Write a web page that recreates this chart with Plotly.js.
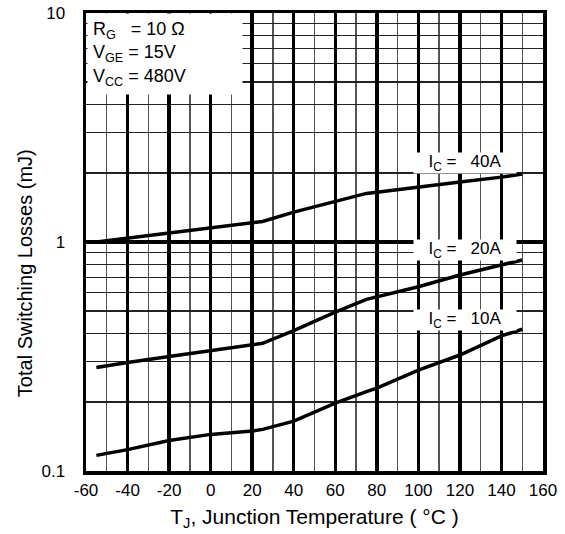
<!DOCTYPE html>
<html>
<head>
<meta charset="utf-8">
<script src="https://cdn.plot.ly/plotly-3.0.1.min.js"></script>
<style>
html,body{margin:0;padding:0;background:#fff;}
#chart{width:565px;height:534px;}
</style>
</head>
<body>
<div id="chart"></div>
<script>
// Junction temperature (°C)
var temps = [-55, -40, -20, 0, 20, 25, 40, 60, 75, 80, 100, 120, 140, 150];
// Total switching losses (mJ)
var loss40A = [1.00, 1.04, 1.09, 1.15, 1.21, 1.23, 1.35, 1.50, 1.63, 1.65, 1.73, 1.83, 1.92, 1.98];
var loss20A = [0.283, 0.298, 0.316, 0.334, 0.355, 0.361, 0.410, 0.494, 0.562, 0.577, 0.638, 0.718, 0.794, 0.835];
var loss10A = [0.117, 0.124, 0.136, 0.1445, 0.1495, 0.152, 0.165, 0.198, 0.222, 0.230, 0.276, 0.321, 0.389, 0.416];

var xTickVals = [-60, -40, -20, 0, 20, 40, 60, 80, 100, 120, 140, 160];
var xTickText = ['-60', '-40', '-20', '0', '20', '40', '60', '80', '100', '120', '140', '160'];
var yTickVals = [0.1, 1, 10];
var yTickText = ['0.1', '1', '10'];
var yMinorVals = [0.2, 0.3, 0.4, 0.5, 0.6, 0.7, 0.8, 0.9, 2, 3, 4, 5, 6, 7, 8, 9];

var curveLabels = ['I<sub>C</sub> =   40A', 'I<sub>C</sub> =   20A', 'I<sub>C</sub> =   10A'];
var labelX = [122.5, 122.5, 122.5];
var labelY = [2.21, 0.923, 0.457];

var conditionsText = 'R<sub>G</sub>   = 10 Ω<br>V<sub>GE</sub> = 15V<br>V<sub>CC</sub> = 480V';
var xTitle = 'T<sub>J</sub>, Junction Temperature ( °C )';
var yTitle = 'Total Switching Losses (mJ)';

var FONT = 'Liberation Sans, Arial, sans-serif';
var lineStyle = {color: '#000', width: 3.5};
var traces = [loss40A, loss20A, loss10A].map(function (ys) {
  return {x: temps, y: ys, type: 'scatter', mode: 'lines', line: lineStyle, hoverinfo: 'skip', showlegend: false};
});

var annotations = curveLabels.map(function (t, i) {
  return {
    x: labelX[i], y: Math.log10(labelY[i]), xref: 'x', yref: 'y',
    text: t, showarrow: false, bgcolor: '#fff', borderpad: 1, width: 100, height: 18,
    font: {family: FONT, size: 17, color: '#000'}
  };
});
annotations.push({
  x: 0, y: 1, xref: 'paper', yref: 'paper', xanchor: 'left', yanchor: 'top',
  text: conditionsText, showarrow: false, align: 'left', bgcolor: '#fff',
  width: 144, borderpad: 5, xshift: 1,
  font: {family: FONT, size: 18, color: '#000'}
});
annotations.push({
  x: -0.1335, y: 0.432, xref: 'paper', yref: 'paper', xanchor: 'center', yanchor: 'middle',
  text: yTitle, textangle: -90, showarrow: false,
  font: {family: FONT, size: 20, color: '#000'}
});

var layout = {
  width: 565, height: 534,
  margin: {l: 86, r: 22, t: 13, b: 63},
  paper_bgcolor: '#fff', plot_bgcolor: '#fff',
  font: {family: FONT, color: '#000', size: 17},
  xaxis: {
    range: [-60, 160], tickmode: 'array', tickvals: xTickVals, ticktext: xTickText,
    showgrid: true, gridcolor: '#000', gridwidth: 3.5,
    zeroline: false, showline: true, linecolor: '#000', linewidth: 3.5, mirror: true,
    ticks: '', ticklabelstandoff: 1,
    tickfont: {size: 17},
    minor: {dtick: 10, tick0: 0, showgrid: true, gridcolor: '#555', gridwidth: 1.3, ticks: ''},
    title: {text: xTitle, font: {size: 21}, standoff: 11}
  },
  yaxis: {
    type: 'log', range: [-1, 1], tickmode: 'array', tickvals: yTickVals, ticktext: yTickText,
    showgrid: true, gridcolor: '#000', gridwidth: 3.5,
    zeroline: false, showline: true, linecolor: '#000', linewidth: 3.5, mirror: true,
    ticks: '', ticklabelstandoff: 14,
    tickfont: {size: 17},
    minor: {tickvals: yMinorVals, showgrid: true, gridcolor: '#222', gridwidth: 1.2, ticks: ''}
  },
  annotations: annotations
};

Plotly.newPlot('chart', traces, layout, {displayModeBar: false, staticPlot: true});
</script>
</body>
</html>
